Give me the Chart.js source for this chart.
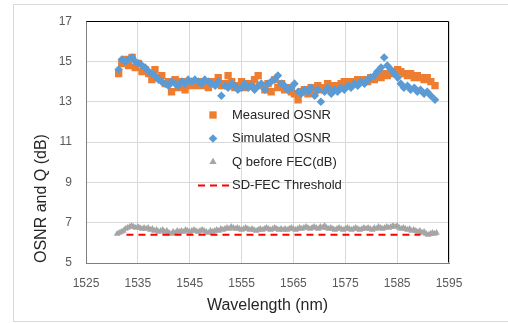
<!DOCTYPE html>
<html><head><meta charset="utf-8">
<script src="https://cdn.jsdelivr.net/npm/chart.js@4/dist/chart.umd.min.js"></script>
<style>html,body{margin:0;padding:0;background:#fff}#wrap{width:508px;height:323px;position:relative}</style>
</head><body><div id="wrap"><canvas id="c" width="508" height="323"></canvas></div>
<script>
const wavelength = [
1531.3,1531.9,1532.6,1533.2,1533.9,1534.5,1535.1,1535.8,1536.4,1537.1,
1537.7,1538.3,1539.0,1539.6,1540.3,1540.9,1541.5,1542.2,1542.8,1543.5,
1544.1,1544.7,1545.4,1546.0,1546.7,1547.3,1547.9,1548.6,1549.2,1549.9,
1550.5,1551.1,1551.8,1552.4,1553.1,1553.7,1554.3,1555.0,1555.6,1556.3,
1556.9,1557.5,1558.2,1558.8,1559.5,1560.1,1560.7,1561.4,1562.0,1562.7,
1563.3,1563.9,1564.6,1565.2,1565.9,1566.5,1567.1,1567.8,1568.4,1569.1,
1569.7,1570.3,1571.0,1571.6,1572.3,1572.9,1573.5,1574.2,1574.8,1575.5,
1576.1,1576.7,1577.4,1578.0,1578.7,1579.3,1579.9,1580.6,1581.2,1581.9,
1582.5,1583.1,1583.8,1584.4,1585.1,1585.7,1586.3,1587.0,1587.6,1588.3,
1588.9,1589.5,1590.2,1590.8,1591.5,1592.3];
const measuredOSNR = [
14.4,14.9,15.1,14.8,15.2,14.7,14.9,14.5,14.6,14.4,
14.1,14.6,14.2,14.3,13.9,14.0,13.5,14.1,13.7,14.0,
13.6,13.8,14.0,13.8,14.0,13.8,13.9,13.7,14.0,13.9,
14.2,13.8,13.9,14.3,14.0,13.7,13.8,14.0,13.7,13.9,
13.8,14.1,14.3,13.8,13.6,13.9,13.5,14.1,13.7,13.9,
13.6,13.7,13.5,13.4,13.1,13.5,13.6,13.4,13.7,13.5,
13.8,13.6,13.7,13.9,13.6,13.8,13.7,13.9,14.0,13.8,
14.0,13.9,14.1,14.0,14.1,14.0,14.2,14.1,14.3,14.2,
14.4,14.3,14.5,14.4,14.6,14.5,14.4,14.3,14.4,14.2,
14.3,14.2,14.1,14.2,14.0,13.8];
const simulatedOSNR = [
14.6,15.1,15.0,15.1,15.2,15.0,14.9,14.8,14.7,14.5,
14.4,14.3,14.1,14.0,13.9,13.8,14.0,13.9,13.8,14.0,
13.9,14.1,14.0,14.1,14.0,13.9,14.1,14.0,13.9,13.8,
14.0,13.3,13.8,13.7,13.9,13.8,13.6,13.7,13.9,13.7,
13.8,13.6,13.8,13.9,13.6,13.9,14.0,14.1,14.3,13.9,
13.8,13.6,13.7,13.9,13.5,13.4,13.6,13.5,13.7,13.3,
13.6,13.0,13.5,13.7,13.4,13.6,13.5,13.7,13.6,13.8,
13.7,13.9,13.8,14.0,13.9,14.1,14.2,14.3,14.5,14.7,
15.2,14.8,14.6,14.4,14.2,13.9,13.7,13.8,13.6,13.7,
13.5,13.6,13.4,13.5,13.3,13.1];
const qWavelength = [
1531.0,1531.4,1531.8,1532.2,1532.6,1533.0,1533.4,1533.8,1534.2,1534.6,
1535.0,1535.4,1535.8,1536.2,1536.6,1537.0,1537.4,1537.8,1538.2,1538.6,
1539.0,1539.4,1539.8,1540.2,1540.6,1541.0,1541.4,1541.8,1542.2,1542.6,
1543.0,1543.4,1543.8,1544.2,1544.6,1545.0,1545.4,1545.8,1546.2,1546.6,
1547.0,1547.4,1547.8,1548.2,1548.6,1549.0,1549.4,1549.8,1550.2,1550.6,
1551.0,1551.4,1551.8,1552.2,1552.6,1553.0,1553.4,1553.8,1554.2,1554.6,
1555.0,1555.4,1555.8,1556.2,1556.6,1557.0,1557.4,1557.8,1558.2,1558.6,
1559.0,1559.4,1559.8,1560.2,1560.6,1561.0,1561.4,1561.8,1562.2,1562.6,
1563.0,1563.4,1563.8,1564.2,1564.6,1565.0,1565.4,1565.8,1566.2,1566.6,
1567.0,1567.4,1567.8,1568.2,1568.6,1569.0,1569.4,1569.8,1570.2,1570.6,
1571.0,1571.4,1571.8,1572.2,1572.6,1573.0,1573.4,1573.8,1574.2,1574.6,
1575.0,1575.4,1575.8,1576.2,1576.6,1577.0,1577.4,1577.8,1578.2,1578.6,
1579.0,1579.4,1579.8,1580.2,1580.6,1581.0,1581.4,1581.8,1582.2,1582.6,
1583.0,1583.4,1583.8,1584.2,1584.6,1585.0,1585.4,1585.8,1586.2,1586.6,
1587.0,1587.4,1587.8,1588.2,1588.6,1589.0,1589.4,1589.8,1590.2,1590.6,
1591.0,1591.4,1591.8,1592.2,1592.6];
const qBeforeFEC = [
6.45,6.5,6.55,6.6,6.7,6.75,6.8,6.85,6.8,6.75,
6.8,6.75,6.7,6.75,6.7,6.75,6.65,6.7,6.6,6.65,
6.55,6.6,6.65,6.55,6.6,6.5,6.45,6.55,6.5,6.6,
6.55,6.6,6.55,6.65,6.6,6.55,6.6,6.65,6.6,6.55,
6.6,6.65,6.6,6.55,6.5,6.6,6.55,6.6,6.65,6.6,
6.7,6.65,6.7,6.75,6.7,6.8,6.75,6.7,6.75,6.7,
6.65,6.7,6.75,6.7,6.65,6.7,6.65,6.6,6.65,6.7,
6.65,6.7,6.75,6.7,6.65,6.7,6.75,6.7,6.65,6.7,
6.65,6.7,6.65,6.7,6.75,6.7,6.65,6.7,6.75,6.7,
6.75,6.8,6.75,6.7,6.75,6.8,6.75,6.7,6.8,6.75,
6.85,6.75,6.7,6.75,6.7,6.65,6.7,6.75,6.7,6.65,
6.7,6.75,6.7,6.65,6.7,6.75,6.7,6.65,6.7,6.75,
6.7,6.75,6.7,6.65,6.75,6.7,6.8,6.75,6.7,6.75,
6.8,6.75,6.8,6.85,6.8,6.85,6.75,6.7,6.75,6.7,
6.65,6.7,6.6,6.65,6.6,6.55,6.6,6.5,6.55,6.45,
6.4,6.45,6.5,6.45,6.5];
const thresholdX = [1532.8, 1589.5];
const thresholdY = [6.4, 6.4];
const xTicks = [1525,1535,1545,1555,1565,1575,1585,1595];
const yTicks = [5,7,9,11,13,15,17];
const seriesNames = ['Measured OSNR','Simulated OSNR','Q before FEC(dB)','SD-FEC Threshold'];

const pts = (xs, ys) => xs.map((x,i)=>({x, y: ys[i]}));
const FONT = "'Liberation Sans', Arial, sans-serif";

const frame = {
  id: 'frame',
  beforeDraw(chart) {
    const ctx = chart.ctx;
    ctx.save();
    ctx.strokeStyle = '#d9d9d9'; ctx.lineWidth = 1;
    ctx.strokeRect(13.5, 4.5, 520, 317);
    ctx.restore();
  },
  afterDatasetsDraw(chart) {
    const a = chart.chartArea, ctx = chart.ctx;
    ctx.save();
    ctx.strokeStyle = '#000'; ctx.lineWidth = 1;
    ctx.beginPath();
    ctx.moveTo(Math.round(a.left)+0.5, Math.round(a.top)+0.5);
    ctx.lineTo(Math.round(a.right)-0.5, Math.round(a.top)+0.5);
    ctx.lineTo(Math.round(a.right)-0.5, Math.round(a.bottom)-0.5);
    ctx.stroke();
    ctx.restore();
  },
  afterDraw(chart) {
    const ctx = chart.ctx;
    const ds = chart.data.datasets;
    const tx = 232, rows = [115, 138.5, 162, 185.5], mx = 213;
    const legendRadius = [5.2, 4.3, 4.2, 0];
    ctx.save();
    ctx.font = '13px ' + FONT;
    ctx.textBaseline = 'middle';
    [0,1,2,3].forEach((k, i) => {
      const d = ds[k], y = rows[i];
      ctx.fillStyle = '#262626';
      ctx.fillText(d.label, tx, y);
      if (d.showLine) {
        ctx.strokeStyle = d.borderColor; ctx.lineWidth = d.borderWidth;
        ctx.setLineDash(d.borderDash || []);
        ctx.beginPath(); ctx.moveTo(198, y); ctx.lineTo(230, y); ctx.stroke();
        ctx.setLineDash([]);
      } else {
        ctx.fillStyle = d.backgroundColor;
        ctx.strokeStyle = d.backgroundColor;
        Chart.helpers.drawPoint(ctx, {pointStyle: d.pointStyle, radius: legendRadius[i], borderWidth: 0, rotation: 0}, mx, y);
      }
    });
    ctx.restore();
  }
};

new Chart(document.getElementById('c'), {
  type: 'scatter',
  data: {
    datasets: [
      { label: seriesNames[0], data: pts(wavelength, measuredOSNR), pointStyle: 'rect', pointRadius: 5.2, pointHoverRadius: 5.2,
        backgroundColor: '#ED7D31', borderColor: '#ED7D31', borderWidth: 0, order: 3 },
      { label: seriesNames[1], data: pts(wavelength, simulatedOSNR), pointStyle: 'rectRot', pointRadius: 4.3, pointHoverRadius: 4.3,
        backgroundColor: '#5B9BD5', borderColor: '#5B9BD5', borderWidth: 0, order: 2 },
      { label: seriesNames[2], data: pts(qWavelength, qBeforeFEC), pointStyle: 'triangle', pointRadius: 3.8, pointHoverRadius: 3.8,
        backgroundColor: '#A5A5A5', borderColor: '#A5A5A5', borderWidth: 0, order: 1 },
      { label: seriesNames[3], data: pts(thresholdX, thresholdY), showLine: true, pointRadius: 0, pointHoverRadius: 0,
        borderColor: '#FF0000', backgroundColor: '#FF0000', borderWidth: 2, borderDash: [7, 5], order: 0 }
    ]
  },
  options: {
    responsive: false, animation: false, devicePixelRatio: 1,
    layout: { padding: { left: 0, top: 18, right: 59, bottom: 0 } },
    plugins: { legend: { display: false }, tooltip: { enabled: false } },
    scales: {
      x: {
        type: 'linear', min: 1525, max: 1595,
        afterBuildTicks: s => { s.ticks = xTicks.map(v => ({value: v})); },
        afterFit: s => { s.height = 60; },
        grid: { color: '#d9d9d9', drawTicks: false },
        border: { color: '#7f7f7f' },
        ticks: { color: '#595959', font: { family: FONT, size: 12 }, padding: 13, maxRotation: 0, callback: v => String(v) },
        title: { display: true, text: 'Wavelength (nm)', color: '#262626', font: { family: FONT, size: 16 }, padding: { top: 0, bottom: 8 } }
      },
      y: {
        type: 'linear', min: 5, max: 17,
        afterBuildTicks: s => { s.ticks = yTicks.map(v => ({value: v})); },
        afterFit: s => { s.width = 86; },
        grid: { color: '#d9d9d9', drawTicks: false },
        border: { color: '#7f7f7f' },
        ticks: { color: '#595959', font: { family: FONT, size: 12 }, padding: 14, callback: v => String(v) },
        title: { display: true, text: 'OSNR and Q (dB)', align: 'start', color: '#262626', font: { family: FONT, size: 16 }, padding: { top: 32, bottom: 0 } }
      }
    }
  },
  plugins: [frame]
});
</script></body></html>
